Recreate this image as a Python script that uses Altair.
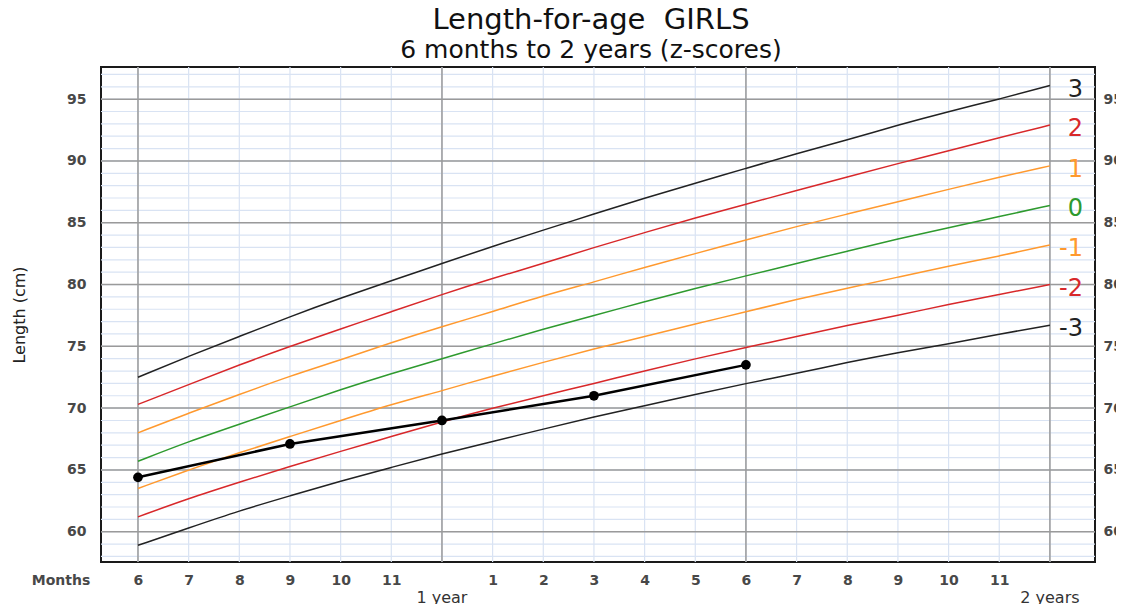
import altair as alt
import pandas as pd

# WHO length-for-age girls, 6 to 24 months (z-score curves), cm
months = list(range(6, 25))
sd_m3 = [58.9, 60.3, 61.7, 62.9, 64.1, 65.2, 66.3, 67.3, 68.3, 69.3, 70.2, 71.1, 72.0, 72.8, 73.7, 74.5, 75.2, 76.0, 76.7]
sd_m2 = [61.2, 62.7, 64.0, 65.3, 66.5, 67.7, 68.9, 70.0, 71.0, 72.0, 73.0, 74.0, 74.9, 75.8, 76.7, 77.5, 78.4, 79.2, 80.0]
sd_m1 = [63.5, 65.0, 66.4, 67.7, 69.0, 70.3, 71.4, 72.6, 73.7, 74.8, 75.8, 76.8, 77.8, 78.8, 79.7, 80.6, 81.5, 82.3, 83.2]
sd_0 = [65.7, 67.3, 68.7, 70.1, 71.5, 72.8, 74.0, 75.2, 76.4, 77.5, 78.6, 79.7, 80.7, 81.7, 82.7, 83.7, 84.6, 85.5, 86.4]
sd_p1 = [68.0, 69.6, 71.1, 72.6, 73.9, 75.3, 76.6, 77.8, 79.1, 80.2, 81.4, 82.5, 83.6, 84.7, 85.7, 86.7, 87.7, 88.7, 89.6]
sd_p2 = [70.3, 71.9, 73.5, 75.0, 76.4, 77.8, 79.2, 80.5, 81.7, 83.0, 84.2, 85.4, 86.5, 87.6, 88.7, 89.8, 90.8, 91.9, 92.9]
sd_p3 = [72.5, 74.2, 75.8, 77.4, 78.9, 80.3, 81.7, 83.1, 84.4, 85.7, 87.0, 88.2, 89.4, 90.6, 91.7, 92.9, 94.0, 95.0, 96.1]

z_names = ["3", "2", "1", "0", "-1", "-2", "-3"]
z_colors = ["#222222", "#d8282a", "#ff992e", "#2e9a2e", "#ff992e", "#d8282a", "#222222"]

# child's measurements
child_age = [6, 9, 12, 15, 18]
child_len = [64.4, 67.1, 69.0, 71.0, 73.5]

# axis / grid values
month_ticks = [m for m in range(6, 24) if m != 12]
minor_v = list(range(6, 25))
major_v = [6, 12, 18, 24]
minor_h = list(range(58, 98))
major_h = list(range(60, 100, 5))
year_marks = [12, 24]
year_text = ["1 year", "2 years"]

series = {"3": sd_p3, "2": sd_p2, "1": sd_p1, "0": sd_0, "-1": sd_m1, "-2": sd_m2, "-3": sd_m3}
rows = []
for z, vals in series.items():
    for m, v in zip(months, vals):
        rows.append({"z": z, "age": m, "len": v})
curves = pd.DataFrame(rows)
ends = curves[curves["age"] == 24].copy()
child = pd.DataFrame({"age": child_age, "len": child_len})

W, H = 994, 495
xs = alt.Scale(domain=[5.27, 24.89], nice=False, zero=False)
ys = alt.Scale(domain=[57.55, 97.6], nice=False, zero=False)
cs = alt.Scale(domain=z_names, range=z_colors)
FONT = "DejaVu Sans"
LBL = dict(labelFont=FONT, labelFontSize=14, labelFontWeight="bold", labelColor="#484848")

vminor = alt.Chart(pd.DataFrame({"v": minor_v})).mark_rule(color="#d9e3f3", strokeWidth=1.2).encode(
    x=alt.X("v:Q", scale=xs, axis=None))
hminor = alt.Chart(pd.DataFrame({"v": minor_h})).mark_rule(color="#d9e3f3", strokeWidth=1.2).encode(
    y=alt.Y("v:Q", scale=ys, axis=alt.Axis(orient="right", values=major_h, grid=False, ticks=False, tickSize=0,
                                           domain=False, labelPadding=8, title=None, **LBL)))
vmajor = alt.Chart(pd.DataFrame({"v": major_v})).mark_rule(color="#9a9a9a", strokeWidth=1.5).encode(
    x=alt.X("v:Q", scale=xs, axis=alt.Axis(values=month_ticks,
                                           labelExpr="datum.value > 12 ? datum.value - 12 : datum.value",
                                           grid=False, ticks=False, tickSize=0, domain=False, labelPadding=11,
                                           title=None, **LBL)))
hmajor = alt.Chart(pd.DataFrame({"v": major_h})).mark_rule(color="#9a9a9a", strokeWidth=1.5).encode(
    y=alt.Y("v:Q", scale=ys, axis=alt.Axis(orient="left", values=major_h, grid=False, ticks=False, tickSize=0,
                                           domain=False, labelPadding=15, title="Length (cm)",
                                           titleFont=FONT, titleFontSize=16, titleFontWeight="normal",
                                           titleColor="#222", titleX=-82, titleBaseline="middle", **LBL)))

lines = alt.Chart(curves).mark_line(strokeWidth=1.5, interpolate="basis").encode(
    x=alt.X("age:Q", scale=xs, axis=None),
    y=alt.Y("len:Q", scale=ys, axis=None),
    color=alt.Color("z:N", scale=cs, legend=None),
    detail="z:N")

zlabels = alt.Chart(ends).mark_text(align="right", baseline="middle", dx=33, dy=4, font=FONT, fontSize=24).encode(
    x=alt.X("age:Q", scale=xs, axis=None),
    y=alt.Y("len:Q", scale=ys, axis=None),
    text="z:N",
    color=alt.Color("z:N", scale=cs, legend=None))

child_line = alt.Chart(child).mark_line(color="#000", strokeWidth=2.5).encode(
    x=alt.X("age:Q", scale=xs, axis=None), y=alt.Y("len:Q", scale=ys, axis=None))
child_pts = alt.Chart(child).mark_circle(color="#000", size=95, opacity=1).encode(
    x=alt.X("age:Q", scale=xs, axis=None), y=alt.Y("len:Q", scale=ys, axis=None))

years = alt.Chart(pd.DataFrame({"age": year_marks, "t": year_text})).mark_text(
    font=FONT, fontSize=16, color="#333", baseline="middle").encode(
    x=alt.X("age:Q", scale=xs, axis=None), y=alt.value(H + 36), text="t:N")

months_lbl = alt.Chart(pd.DataFrame({"t": ["Months"]})).mark_text(
    font=FONT, fontSize=14, fontWeight="bold", color="#484848", baseline="middle").encode(
    x=alt.value(-40), y=alt.value(H + 19), text="t:N")

chart = alt.layer(vminor, hminor, vmajor, hmajor, lines, zlabels, child_line, child_pts, years, months_lbl).resolve_axis(
    y="independent", x="independent"
).properties(
    width=W, height=H, background="white",
    title=alt.TitleParams(text="Length-for-age\u00a0 GIRLS", subtitle="6 months to 2 years (z-scores)",
                          anchor="middle", font=FONT, fontSize=29, fontWeight="normal", color="#111",
                          subtitleFont=FONT, subtitleFontSize=25, subtitleColor="#111",
                          subtitlePadding=3, offset=3, dx=-7),
    autosize=alt.AutoSizeParams(type="none"),
    padding={"left": 93, "top": 59, "right": 21, "bottom": 42},
).configure_view(stroke="#1a1a1a", strokeWidth=2)

chart.save("out.html", embed_options={"renderer": "svg", "actions": False})
